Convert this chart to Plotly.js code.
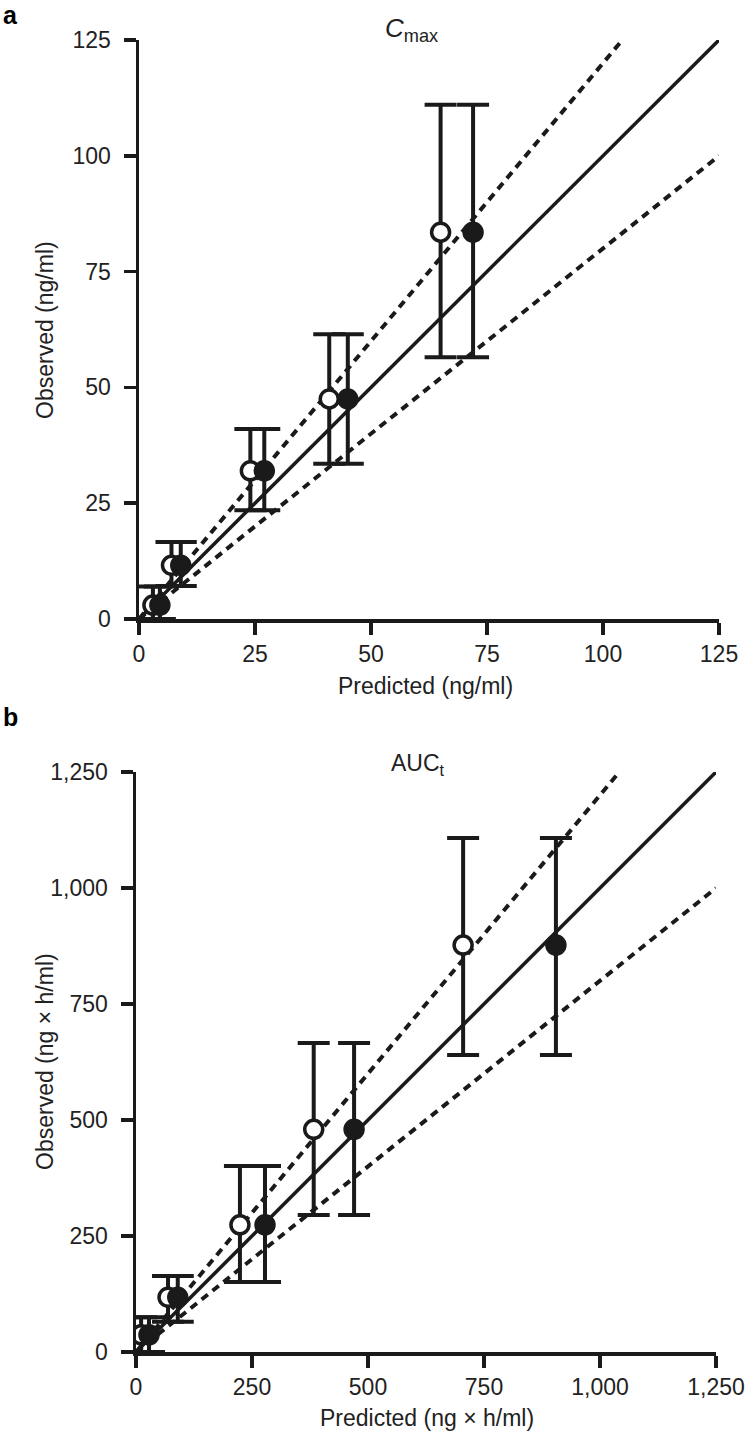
<!DOCTYPE html>
<html>
<head>
<meta charset="utf-8">
<script src="https://cdn.plot.ly/plotly-3.0.1.min.js"></script>
<style>
  body { margin: 0; background: #fff; }
  #chart { width: 748px; height: 1439px; }
</style>
</head>
<body>
<div id="chart"></div>
<script>
// panel a: Cmax (ng/ml)
const cmaxPredOpen = [3, 7, 24, 41, 65];
const cmaxPredFilled = [4.5, 9, 27, 45, 72];
const cmaxObs = [3, 11.6, 32, 47.5, 83.5];
const cmaxErrUp = [4, 5, 9, 14, 27.5];
const cmaxErrDown = [3, 4.5, 8.5, 14, 27];

// panel b: AUCt (ng x h/ml)
const aucPredOpen = [11, 69, 224, 383, 705];
const aucPredFilled = [28, 90, 278, 470, 905];
const aucObs = [37, 118, 274, 480, 877];
const aucErrUp = [38, 46, 127, 186, 231];
const aucErrDown = [37, 53, 123, 185, 237];

const cmaxLine = [0, 125];
const aucLine = [0, 1250];

const ink = '#1a1a1a';
const font = {family: 'Liberation Sans, Arial, sans-serif', size: 23, color: '#222'};

function refLines(vals, xa, ya) {
  const max = vals[1];
  return [
    {x: vals, y: vals, mode: 'lines', line: {color: ink, width: 3.5}, xaxis: xa, yaxis: ya},
    {x: [0, max / 1.2], y: [0, max], mode: 'lines', line: {color: ink, width: 4, dash: '8px,6px'}, xaxis: xa, yaxis: ya},
    {x: [0, max], y: [0, max * 0.8], mode: 'lines', line: {color: ink, width: 4, dash: '8px,6px'}, xaxis: xa, yaxis: ya}
  ];
}

function points(px, py, up, down, filled, xa, ya) {
  return {
    x: px, y: py, mode: 'markers', xaxis: xa, yaxis: ya,
    error_y: {type: 'data', array: up, arrayminus: down, color: ink, thickness: 4, width: 16},
    marker: {size: 18, color: filled ? ink : '#fff', line: {color: ink, width: 3.5}}
  };
}

const data = [
  ...refLines(cmaxLine, 'x', 'y'),
  points(cmaxPredOpen, cmaxObs, cmaxErrUp, cmaxErrDown, false, 'x', 'y'),
  points(cmaxPredFilled, cmaxObs, cmaxErrUp, cmaxErrDown, true, 'x', 'y'),
  ...refLines(aucLine, 'x2', 'y2'),
  points(aucPredOpen, aucObs, aucErrUp, aucErrDown, false, 'x2', 'y2'),
  points(aucPredFilled, aucObs, aucErrUp, aucErrDown, true, 'x2', 'y2')
];

const axisBase = {
  showgrid: false, zeroline: false, showline: true, linecolor: ink, linewidth: 3.5,
  ticks: 'outside', ticklen: 12, tickwidth: 3.5, tickcolor: ink, tickfont: font
};
const xBase = {...axisBase, ticklabelstandoff: 0};
const yBase = {...axisBase, ticklabelstandoff: 8};

const layout = {
  width: 748, height: 1439,
  margin: {l: 0, r: 0, t: 0, b: 0},
  paper_bgcolor: '#fff', plot_bgcolor: '#fff',
  showlegend: false,
  font: font,
  xaxis: {...xBase, domain: [139 / 748, 719 / 748], range: [0, 125], tickvals: [0, 25, 50, 75, 100, 125], anchor: 'y'},
  yaxis: {...yBase, domain: [1 - 619 / 1439, 1 - 40 / 1439], range: [0, 125], tickvals: [0, 25, 50, 75, 100, 125], anchor: 'x'},
  xaxis2: {...xBase, domain: [136 / 748, 716 / 748], range: [0, 1250], tickvals: [0, 250, 500, 750, 1000, 1250], tickformat: ',', anchor: 'y2'},
  yaxis2: {...yBase, domain: [1 - 1352 / 1439, 1 - 772 / 1439], range: [0, 1250], tickvals: [0, 250, 500, 750, 1000, 1250], tickformat: ',', anchor: 'x2'},
  annotations: [
    {text: '<b>a</b>', x: 1 / 748, y: 1 - 15 / 1439, xanchor: 'left', font: {...font, size: 25, color: '#000'}},
    {text: '<b>b</b>', x: 1 / 748, y: 1 - 717 / 1439, xanchor: 'left', font: {...font, size: 25, color: '#000'}},
    {text: '<i>C</i><sub>max</sub>', x: 411 / 748, y: 1 - 30 / 1439, font: {...font, size: 26}},
    {text: 'AUC<sub>t</sub>', x: 418 / 748, y: 1 - 764 / 1439},
    {text: 'Predicted (ng/ml)', x: 425 / 748, y: 1 - 686 / 1439},
    {text: 'Predicted (ng × h/ml)', x: 427 / 748, y: 1 - 1418 / 1439},
    {text: 'Observed (ng/ml)', x: 45 / 748, y: 1 - 330 / 1439, textangle: -90},
    {text: 'Observed (ng × h/ml)', x: 45 / 748, y: 1 - 1062 / 1439, textangle: -90}
  ].map(a => ({xref: 'paper', yref: 'paper', xanchor: 'center', yanchor: 'middle', showarrow: false, font: font, ...a}))
};

Plotly.newPlot('chart', data, layout, {displayModeBar: false, staticPlot: true});
</script>
</body>
</html>
